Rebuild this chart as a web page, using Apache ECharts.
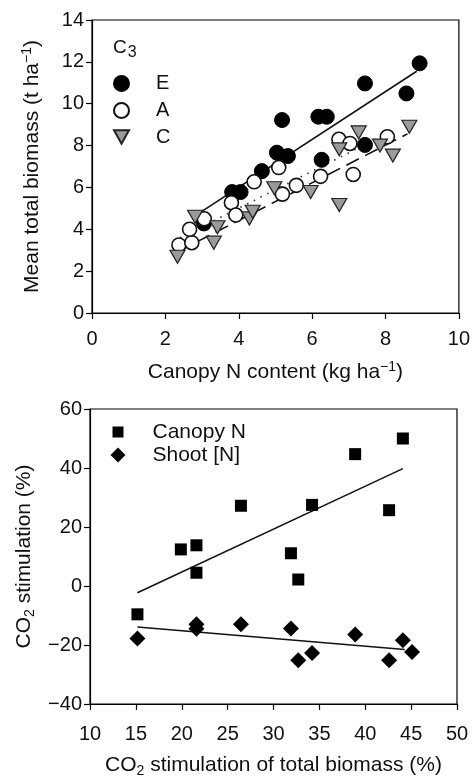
<!DOCTYPE html>
<html><head><meta charset="utf-8">
<script src="https://cdn.jsdelivr.net/npm/echarts@6/dist/echarts.min.js"></script>
<style>html,body{margin:0;padding:0;background:#fff}#c{width:473px;height:779px}</style>
</head><body><div id="c"></div>
<script>
// Top panel: canopy N content vs total biomass
const eX = [3.05, 3.82, 4.05, 4.63, 5.04, 5.34, 5.18, 6.17, 6.40, 6.26, 7.44, 7.44, 8.57, 8.93];
const eY = [4.28, 5.78, 5.78, 6.78, 7.66, 7.50, 9.22, 9.38, 9.38, 7.32, 10.97, 8.03, 10.49, 11.93];
const aX = [2.37, 2.72, 2.66, 3.06, 3.80, 3.92, 4.42, 5.09, 5.19, 5.57, 6.23, 6.73, 7.03, 7.12, 8.05];
const aY = [3.25, 3.36, 4.00, 4.50, 5.27, 4.68, 6.27, 6.95, 5.68, 6.10, 6.53, 8.30, 8.10, 6.62, 8.42];
const cX = [2.33, 2.81, 3.32, 3.42, 4.29, 4.38, 4.97, 5.96, 6.74, 7.27, 6.74, 7.85, 8.20, 8.65];
const cY = [2.69, 4.60, 3.36, 4.10, 4.52, 4.84, 5.96, 5.78, 7.82, 8.63, 5.16, 8.00, 7.52, 8.90];
// fitted lines (end points)
const fitE = [[2.9, 4.75], [8.85, 11.55]];
const fitA = [[2.4, 3.6], [8.05, 8.58]];
const fitC = [[2.35, 2.94], [8.6, 8.56]];
const topXTicks = [0, 2, 4, 6, 8, 10];
const topYTicks = [0, 2, 4, 6, 8, 10, 12, 14];

// Bottom panel: CO2 stimulation
const canX = [15.17, 19.9, 21.6, 21.6, 26.45, 31.9, 32.7, 34.2, 38.9, 42.6, 44.1];
const canY = [-9.6, 12.4, 13.8, 4.5, 27.2, 11.1, 2.2, 27.5, 44.7, 25.7, 50.0];
const shX = [15.17, 21.6, 21.6, 26.45, 31.9, 32.7, 34.2, 38.9, 42.6, 44.1, 45.1];
const shY = [-17.8, -13.0, -14.5, -13.0, -14.4, -25.2, -22.7, -16.4, -25.2, -18.4, -22.4];
const fitCan = [[15.17, -2.3], [44.1, 39.8]];
const fitSh = [[15.17, -13.9], [44.3, -21.5]];
const botXTicks = [10, 15, 20, 25, 30, 35, 40, 45, 50];
const botYTicks = [-40, -20, 0, 20, 40, 60];

const zip = (xs, ys) => xs.map((x, i) => [x, ys[i]]);
const FONT = 'Liberation Sans, Arial, sans-serif';
const downTri = 'path://M0,0 L10,0 L5,9 Z';

function axisCommon(margin) {
  return {
    axisLine: {show: true, onZero: false, lineStyle: {color: '#000', width: 1.2}},
    axisTick: {show: true, inside: false, length: 6, lineStyle: {color: '#000', width: 1.2}},
    splitLine: {show: false},
    axisLabel: {color: '#111', fontSize: 20, fontFamily: FONT, margin: margin,
      formatter: v => String(v).replace('-', '\u2212')},
    nameTextStyle: {color: '#111', fontSize: 21, fontFamily: FONT,
      rich: {
        sup: {fontSize: 14, fontFamily: FONT, color: '#111', verticalAlign: 'top', padding: [0, 0, 10, 0]},
        sub: {fontSize: 14, fontFamily: FONT, color: '#111', padding: [11, 0, 0, 0]}
      }}
  };
}

function leg(name, left, top, w, h, pad, fs) {
  return {
    data: [name], orient: 'vertical', left: left, top: top, padding: 0,
    itemWidth: w, itemHeight: h,
    textStyle: {fontSize: fs, fontFamily: FONT, color: '#111', padding: [0, 0, 0, pad]}
  };
}

const chart = echarts.init(document.getElementById('c'), null, {renderer: 'canvas'});
const option = {
  backgroundColor: '#fff',
  animation: false,
  title: [{
    text: 'C{sub|3}', left: 108, top: 29,
    textStyle: {fontSize: 19, fontWeight: 'normal', color: '#111', fontFamily: FONT,
      rich: {sub: {fontSize: 16, fontFamily: FONT, color: '#111', padding: [11, 0, 0, 1]}}}
  }],
  legend: [
    leg('E', 113, 73.5, 15, 15, 22, 20),
    leg('A', 113, 100.5, 15, 15, 22, 20),
    leg('C', 113, 127, 15, 15, 22, 20),
    leg('Canopy N', 112.5, 421.5, 11, 11, 24, 21),
    leg('Shoot [N]', 110.5, 444.5, 15, 15, 22, 21)
  ],
  grid: [
    {left: 92, right: 13, top: 20, bottom: 466, show: true, borderColor: '#000', borderWidth: 1.2, containLabel: false},
    {left: 90, right: 16, top: 409, bottom: 74, show: true, borderColor: '#000', borderWidth: 1.2, containLabel: false}
  ],
  xAxis: [
    Object.assign(axisCommon(16), {gridIndex: 0, type: 'value', min: topXTicks[0], max: topXTicks[topXTicks.length - 1], interval: 2,
      name: 'Canopy N content (kg ha{sup|\u22121})', nameLocation: 'middle', nameGap: 47}),
    Object.assign(axisCommon(20), {gridIndex: 1, type: 'value', min: botXTicks[0], max: botXTicks[botXTicks.length - 1], interval: 5,
      name: 'CO{sub|2} stimulation of total biomass (%)', nameLocation: 'middle', nameGap: 49})
  ],
  yAxis: [
    Object.assign(axisCommon(8), {gridIndex: 0, type: 'value', min: topYTicks[0], max: topYTicks[topYTicks.length - 1], interval: 2,
      name: 'Mean total biomass (t ha{sup|\u22121})', nameLocation: 'middle', nameGap: 48}),
    Object.assign(axisCommon(8), {gridIndex: 1, type: 'value', min: botYTicks[0], max: botYTicks[botYTicks.length - 1], interval: 20,
      name: 'CO{sub|2} stimulation (%)', nameLocation: 'middle', nameGap: 52})
  ],
  series: [
    {name: 'fitE', type: 'line', xAxisIndex: 0, yAxisIndex: 0, data: fitE, symbol: 'none', z: 1,
      lineStyle: {color: '#111', width: 1.6, type: 'solid'}},
    {name: 'fitA', type: 'line', xAxisIndex: 0, yAxisIndex: 0, data: fitA, symbol: 'none', z: 1,
      lineStyle: {color: '#333', width: 1.6, type: [1.5, 6]}},
    {name: 'fitC', type: 'line', xAxisIndex: 0, yAxisIndex: 0, data: fitC, symbol: 'none', z: 1,
      lineStyle: {color: '#111', width: 1.6, type: [14, 7]}},
    {name: 'E', type: 'scatter', xAxisIndex: 0, yAxisIndex: 0, data: zip(eX, eY), symbol: 'circle', symbolSize: 15, z: 3,
      itemStyle: {color: '#000', borderColor: '#000', borderWidth: 1, opacity: 1}},
    {name: 'A', type: 'scatter', xAxisIndex: 0, yAxisIndex: 0, data: zip(aX, aY), symbol: 'circle', symbolSize: 14, z: 4,
      itemStyle: {color: '#fff', borderColor: '#111', borderWidth: 1.6, opacity: 1}},
    {name: 'C', type: 'scatter', xAxisIndex: 0, yAxisIndex: 0, data: zip(cX, cY), symbol: downTri, symbolSize: [15, 13], z: 5,
      itemStyle: {color: '#9a9a9a', borderColor: '#222', borderWidth: 1.2, opacity: 1}},
    {name: 'fitCan', type: 'line', xAxisIndex: 1, yAxisIndex: 1, data: fitCan, symbol: 'none', z: 1,
      lineStyle: {color: '#111', width: 1.5}},
    {name: 'fitSh', type: 'line', xAxisIndex: 1, yAxisIndex: 1, data: fitSh, symbol: 'none', z: 1,
      lineStyle: {color: '#111', width: 1.5}},
    {name: 'Canopy N', type: 'scatter', xAxisIndex: 1, yAxisIndex: 1, data: zip(canX, canY), symbol: 'rect', symbolSize: 12, z: 3,
      itemStyle: {color: '#000', opacity: 1}},
    {name: 'Shoot [N]', type: 'scatter', xAxisIndex: 1, yAxisIndex: 1, data: zip(shX, shY), symbol: 'diamond', symbolSize: [16, 16], z: 3,
      itemStyle: {color: '#000', opacity: 1}}
  ]
};
chart.setOption(option);
</script></body></html>
